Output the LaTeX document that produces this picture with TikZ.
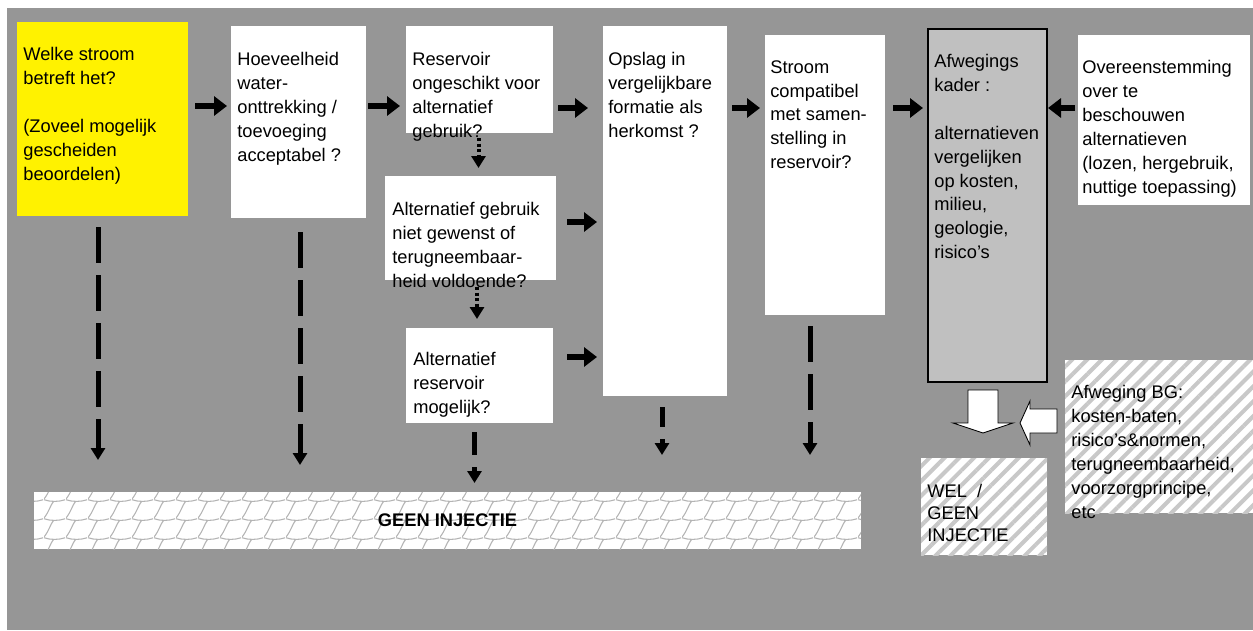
\documentclass[tikz,border=0pt]{standalone}
\usepackage{fontspec}
\setmainfont{Liberation Sans}
\usetikzlibrary{arrows.meta, patterns.meta}

\newlength\px
\setlength\px{0.2mm}
\definecolor{bggray}{RGB}{150,150,150}
\definecolor{kadergray}{RGB}{192,192,192}
\definecolor{stripegray}{RGB}{200,200,200}
\definecolor{scalegray}{RGB}{180,180,180}

\tikzdeclarepattern{
  name=shingle,
  type=uncolored,
  bounding box={(0,0) and (4.4mm,3.7mm)},
  tile size={(4.4mm,3.7mm)},
  code={
    \draw[line width=0.22mm] (0,3.7mm) .. controls (1.3mm,3.25mm) and (3.1mm,3.25mm) .. (4.4mm,3.7mm);
    \draw[line width=0.22mm] (0,0) .. controls (1.1mm,1.3mm) and (1.3mm,2.6mm) .. (2mm,3.35mm);
  }
}

\tikzset{
  box/.style={fill=white, anchor=north west, inner sep=0pt, outer sep=0pt},
  boxsize/.style 2 args={minimum width=#1\px, minimum height=#2\px},
  txt/.style={anchor=north west, inner sep=0pt, align=left, font=\fontsize{10.4}{13.6}\selectfont},
  hatched/.style={anchor=north west, inner sep=0pt, outer sep=0pt, preaction={fill=white},
    pattern={Lines[angle=45, distance=2.1mm, line width=0.8mm]}, pattern color=stripegray},
  band/.style={anchor=north west, inner sep=0pt, outer sep=0pt, preaction={fill=white},
    pattern=shingle, pattern color=scalegray, font=\bfseries\fontsize{10.4}{13.6}\selectfont},
  flow/.style={line width=3.4pt, -{Triangle[width=3.8mm, length=2.6mm]}},
  drop/.style={line width=1mm, dash pattern=on #1 off 2.4mm, -{Triangle[width=2.8mm, length=2.4mm]}},
  drop/.default=7.2mm,
  dotdrop/.style={line width=0.8mm, dash pattern=on 0.6mm off 0.5mm, -{Triangle[width=2.8mm, length=2.4mm]}},
  blockarrow/.style={draw=black, fill=white, line width=0.5pt}
}

\begin{document}
\begin{tikzpicture}[x=0.2mm, y=-0.2mm]
\useasboundingbox (0,0) rectangle (1253,630);
\fill[bggray] (7,8) rectangle (1253,630);

% boxes
\path (17,22) node[box, boxsize={171}{194}, fill=yellow] (b1) {}
      (231,26) node[box, boxsize={135}{192}] (b2) {}
      (406,26) node[box, boxsize={147}{107}] (b3) {}
      (385,176) node[box, boxsize={171}{104}] (b4) {}
      (406,328) node[box, boxsize={147}{95}] (b5) {}
      (603,26) node[box, boxsize={124}{370}] (b6) {}
      (765,35) node[box, boxsize={120}{280}] (b7) {}
      (928,29) node[box, boxsize={119}{353}, fill=kadergray, draw=black, line width=0.85pt] (b8) {}
      (1078,35) node[box, boxsize={172}{170}] (b9) {}
      (1065,360) node[hatched, boxsize={188}{153}] (b10) {}
      (921,458) node[hatched, boxsize={126}{97}] (b11) {}
      (34,492) node[band, boxsize={827}{57}] (band) {GEEN INJECTIE};

% texts
\path (23,47) node[txt] (t1) {Welke stroom\\betreft het?\\\mbox{}\\(Zoveel mogelijk\\gescheiden\\beoordelen)}
      (237,52) node[txt] (t2) {Hoeveelheid\\water-\\onttrekking /\\toevoeging\\acceptabel ?}
      (412,52) node[txt] (t3) {Reservoir\\ongeschikt voor\\alternatief\\gebruik?}
      (392,202) node[txt] (t4) {Alternatief gebruik\\niet gewenst of\\terugneembaar-\\heid voldoende?}
      (413,352) node[txt] (t5) {Alternatief\\reservoir\\mogelijk?}
      (608,52) node[txt] (t6) {Opslag in\\vergelijkbare\\formatie als\\herkomst ?}
      (770,60) node[txt] (t7) {Stroom\\compatibel\\met samen-\\stelling in\\reservoir?}
      (934,54) node[txt] (t8) {Afwegings\\kader :\\\mbox{}\\alternatieven\\vergelijken\\op kosten,\\milieu,\\geologie,\\risico's}
      (1082,60) node[txt] (t9) {Overeenstemming\\over te\\beschouwen\\alternatieven\\(lozen, hergebruik,\\nuttige toepassing)}
      (1071,385) node[txt] (t10) {Afweging BG:\\kosten-baten,\\risico's\&normen,\\terugneembaarheid,\\voorzorgprincipe,\\etc}
      (927,484) node[txt, font=\fontsize{10.4}{12.6}\selectfont] (t11) {WEL~~/\\GEEN\\INJECTIE};

% flow to the right
\coordinate (r1) at (0,106);
\coordinate (r2) at (0,108);
\coordinate (r3) at (0,222);
\coordinate (r4) at (0,357);
\draw[flow, shorten <=7\px, shorten >=4\px] (b1.east |- r1) -- (b2.west |- r1);
\draw[flow, shorten <=2\px, shorten >=6\px] (b2.east |- r1) -- (b3.west |- r1);
\draw[flow, shorten <=5\px, shorten >=15\px] (b3.east |- r2) -- (b6.west |- r2);
\draw[flow, shorten <=11\px, shorten >=6\px] (b4.east |- r3) -- (b6.west |- r3);
\draw[flow, shorten <=14\px, shorten >=6\px] (b5.east |- r4) -- (b6.west |- r4);
\draw[flow, shorten <=5\px, shorten >=5\px] (b6.east |- r2) -- (b7.west |- r2);
\draw[flow, shorten <=8\px, shorten >=5\px] (b7.east |- r2) -- (b8.west |- r2);
\draw[flow, shorten <=3\px, shorten >=1\px] (b9.west |- r2) -- (b8.east |- r2);

% dropping out: geen injectie
\draw[drop, shorten <=11\px, shorten >=32\px] ([xshift=-4.5\px]b1.south) -- ([xshift=-4.5\px]b1.south |- band.north);
\draw[drop, shorten <=14\px, shorten >=27\px] ([xshift=1.5\px]b2.south) -- ([xshift=1.5\px]b2.south |- band.north);
\draw[dotdrop, shorten <=5\px, shorten >=8\px] ([xshift=-1\px]b3.south) -- ([xshift=-1\px]b3.south |- b4.north);
\draw[dotdrop, shorten <=7\px, shorten >=9\px] ([xshift=6.5\px]b4.south) -- ([xshift=6.5\px]b4.south |- b5.north);
\draw[drop=4.6mm, shorten <=9\px, shorten >=9\px] ([xshift=-5\px]b5.south) -- ([xshift=-5\px]b5.south |- band.north);
\draw[drop=4mm, shorten <=11\px, shorten >=37\px] ([xshift=-3\px]b6.south) -- ([xshift=-3\px]b6.south |- band.north);
\draw[drop, shorten <=11\px, shorten >=37\px] ([xshift=-15\px]b7.south) -- ([xshift=-15\px]b7.south |- band.north);

% block arrows to the verdict
\draw[blockarrow] (968,390) -- (998,390) -- (998,423) -- (1013,423) -- (983,433) -- (953,423) -- (968,423) -- cycle;
\draw[blockarrow] (1057,409) -- (1030,409) -- (1030,401) -- (1020,423) -- (1030,445) -- (1030,433) -- (1057,433) -- cycle;

\end{tikzpicture}
\end{document}
